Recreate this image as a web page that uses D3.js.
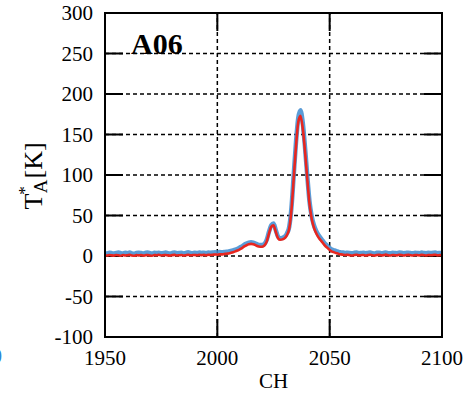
<!DOCTYPE html>
<html>
<head>
<meta charset="utf-8">
<script src="https://cdn.jsdelivr.net/npm/d3@7"></script>
<style>
  html, body { margin: 0; padding: 0; background: #fff; }
  svg { display: block; }
  text { font-family: "Liberation Serif", "Times New Roman", serif; }
</style>
</head>
<body>
<div id="chart"></div>
<script>
// channel axis and the two spectra (T_A* in K), one value per channel 1950..2100
const channelStart = 1950;
const blueSpectrum = [
  3.6, 3.2, 4.1, 3.5, 3.0, 3.8, 4.3, 3.4, 3.1, 3.9,
  3.5, 4.2, 3.3, 2.9, 3.7, 4.0, 3.6, 3.1, 3.8, 4.4,
  3.4, 3.0, 3.9, 3.6, 4.1, 3.3, 3.7, 4.2, 3.5, 3.2,
  3.8, 4.3, 3.4, 3.6, 4.0, 3.1, 3.9, 4.5, 3.7, 3.4,
  4.0, 3.6, 4.3, 3.8, 4.1, 3.5, 4.4, 4.0, 4.2, 4.6,
  4.3, 4.8, 4.5, 4.9, 5.2, 5.6, 6.2, 7.0, 8.0, 9.0,
  10.5, 12, 14, 15.5, 16.5, 17, 16.5, 15.5, 14, 13.5,
  13.5, 15, 20, 30, 38, 40, 32, 24, 22, 22.5,
  24, 28, 36, 60, 100, 140, 170, 180, 165, 135,
  100, 68, 49, 38, 31, 26, 22, 18.5, 15, 12.5,
  10, 8, 7, 6, 5, 4.5, 4.2, 3.8, 4.1, 3.6,
  3.3, 3.9, 4.2, 3.5, 3.7, 4.0, 3.4, 3.8, 4.3, 3.6,
  3.2, 3.9, 4.1, 3.5, 3.8, 4.4, 3.6, 3.3, 4.0, 3.7,
  3.5, 4.2, 3.9, 3.4, 3.8, 4.1, 3.6, 3.3, 4.0, 3.8,
  3.5, 4.2, 3.7, 3.4, 4.0, 3.6, 3.9, 4.3, 3.5, 3.8,
  3.7,
];
const redSpectrum = [
  1.0, 0.6, 1.3, 0.8, 0.5, 1.2, 0.9, 0.4, 1.1, 0.7,
  1.0, 1.4, 0.6, 0.3, 1.1, 0.8, 1.2, 0.5, 0.9, 1.3,
  0.7, 0.4, 1.2, 0.9, 1.5, 0.6, 1.0, 1.3, 0.8, 0.5,
  1.1, 1.4, 0.7, 0.9, 1.2, 0.5, 1.0, 1.6, 0.8, 1.1,
  1.3, 0.9, 1.5, 1.1, 1.4, 0.8, 1.6, 1.2, 1.5, 1.9,
  1.6, 2.1, 2.0, 2.4, 2.8, 3.2, 3.9, 4.7, 5.7, 6.8,
  8.2, 9.8, 11.8, 13.3, 14.4, 15, 14.5, 13.4, 12, 11.5,
  11.5, 13, 18, 28, 36, 38, 30, 22, 20, 20.5,
  22, 26, 34, 57, 96, 135, 165, 173, 158, 130,
  96, 65, 46, 35, 28, 23, 19.5, 16, 12.5, 10,
  7.5, 5.5, 4.5, 3.5, 2.6, 2.0, 1.6, 1.2, 1.5, 0.9,
  0.6, 1.2, 1.5, 0.8, 1.0, 1.3, 0.7, 1.1, 1.6, 0.9,
  0.5, 1.2, 1.4, 0.8, 1.1, 1.7, 0.9, 0.6, 1.3, 1.0,
  0.8, 1.5, 1.2, 0.7, 1.1, 1.4, 0.9, 0.6, 1.3, 1.1,
  0.8, 1.5, 1.0, 0.7, 1.3, 0.9, 1.2, 1.6, 0.8, 1.1,
  1.0,
];
const xTicks = [1950, 2000, 2050, 2100];
const yTicks = [-100, -50, 0, 50, 100, 150, 200, 250, 300];
const panelLabel = "A06";
const xLabel = "CH";

const width = 468;
const height = 393;
const margin = { top: 13, right: 26, bottom: 56, left: 105 };
const tickLen = 18;

const svg = d3.select("#chart")
  .append("svg")
  .attr("width", width)
  .attr("height", height);

const x = d3.scaleLinear().domain([1950, 2100]).range([margin.left, width - margin.right]);
const y = d3.scaleLinear().domain([-100, 300]).range([height - margin.bottom, margin.top]);

const [x0, x1] = x.range();
const [y0, y1] = y.range(); // y0 bottom, y1 top

// dashed grid, interior ticks only
const grid = svg.append("g")
  .attr("stroke", "#000")
  .attr("stroke-width", 1.5)
  .attr("stroke-dasharray", "4,3");

grid.selectAll("line.gy")
  .data(yTicks.filter((v) => v > -100 && v < 300))
  .join("line")
  .attr("class", "gy")
  .attr("x1", x0).attr("x2", x1)
  .attr("y1", (d) => y(d)).attr("y2", (d) => y(d));

grid.selectAll("line.gx")
  .data(xTicks.filter((v) => v > 1950 && v < 2100))
  .join("line")
  .attr("class", "gx")
  .attr("y1", y0).attr("y2", y1)
  .attr("x1", (d) => x(d)).attr("x2", (d) => x(d));

// inward solid ticks on all four sides
const ticks = svg.append("g").attr("stroke", "#000").attr("stroke-width", 2);
yTicks.forEach((v) => {
  ticks.append("line").attr("x1", x0).attr("x2", x0 + tickLen).attr("y1", y(v)).attr("y2", y(v));
  ticks.append("line").attr("x1", x1 - tickLen).attr("x2", x1).attr("y1", y(v)).attr("y2", y(v));
});
xTicks.forEach((v) => {
  ticks.append("line").attr("x1", x(v)).attr("x2", x(v)).attr("y1", y0).attr("y2", y0 - tickLen);
  ticks.append("line").attr("x1", x(v)).attr("x2", x(v)).attr("y1", y1).attr("y2", y1 + tickLen);
});

// spectra
const line = d3.line()
  .x((d, i) => x(channelStart + i))
  .y((d) => y(d))
  .curve(d3.curveMonotoneX);

svg.append("path")
  .datum(blueSpectrum)
  .attr("fill", "none")
  .attr("stroke", "#3d8bd0")
  .attr("stroke-width", 4.5)
  .attr("stroke-opacity", 0.85)
  .attr("stroke-linejoin", "round")
  .attr("d", line);

svg.append("path")
  .datum(redSpectrum)
  .attr("fill", "none")
  .attr("stroke", "#e8261f")
  .attr("stroke-width", 2.6)
  .attr("stroke-linejoin", "round")
  .attr("d", line);

// frame
svg.append("rect")
  .attr("x", x0).attr("y", y1)
  .attr("width", x1 - x0).attr("height", y0 - y1)
  .attr("fill", "none")
  .attr("stroke", "#000")
  .attr("stroke-width", 2);

// tick labels
svg.append("g")
  .selectAll("text")
  .data(yTicks)
  .join("text")
  .attr("x", x0 - 12)
  .attr("y", (d) => y(d))
  .attr("dy", "0.35em")
  .attr("text-anchor", "end")
  .attr("font-size", 21)
  .text((d) => d);

svg.append("g")
  .selectAll("text")
  .data(xTicks)
  .join("text")
  .attr("x", (d) => x(d))
  .attr("y", y0 + 28)
  .attr("text-anchor", "middle")
  .attr("font-size", 21)
  .text((d) => d);

svg.append("text")
  .attr("x", (x0 + x1) / 2)
  .attr("y", y0 + 51)
  .attr("text-anchor", "middle")
  .attr("font-size", 21)
  .text(xLabel);

// y label: T*_A [K]
const yl = svg.append("text")
  .attr("transform", `translate(42,176) rotate(-90)`)
  .attr("text-anchor", "middle")
  .attr("font-size", 26);
yl.append("tspan").text("T");
yl.append("tspan").attr("font-size", 17).attr("dy", -12).attr("dx", -1).text("*");
yl.append("tspan").attr("font-size", 19).attr("dy", 17).attr("dx", -7).text("A");
yl.append("tspan").attr("dy", -5).attr("dx", 1).text("[K]");

// panel label
svg.append("text")
  .attr("x", 131)
  .attr("y", 54)
  .attr("font-size", 30)
  .attr("font-weight", "bold")
  .text(panelLabel);

// clipped fragment of the neighbouring panel at the left edge
svg.append("text")
  .attr("x", -8.5)
  .attr("y", 363)
  .attr("font-size", 21)
  .attr("fill", "#2f86d6")
  .text("0");
</script>
</body>
</html>
